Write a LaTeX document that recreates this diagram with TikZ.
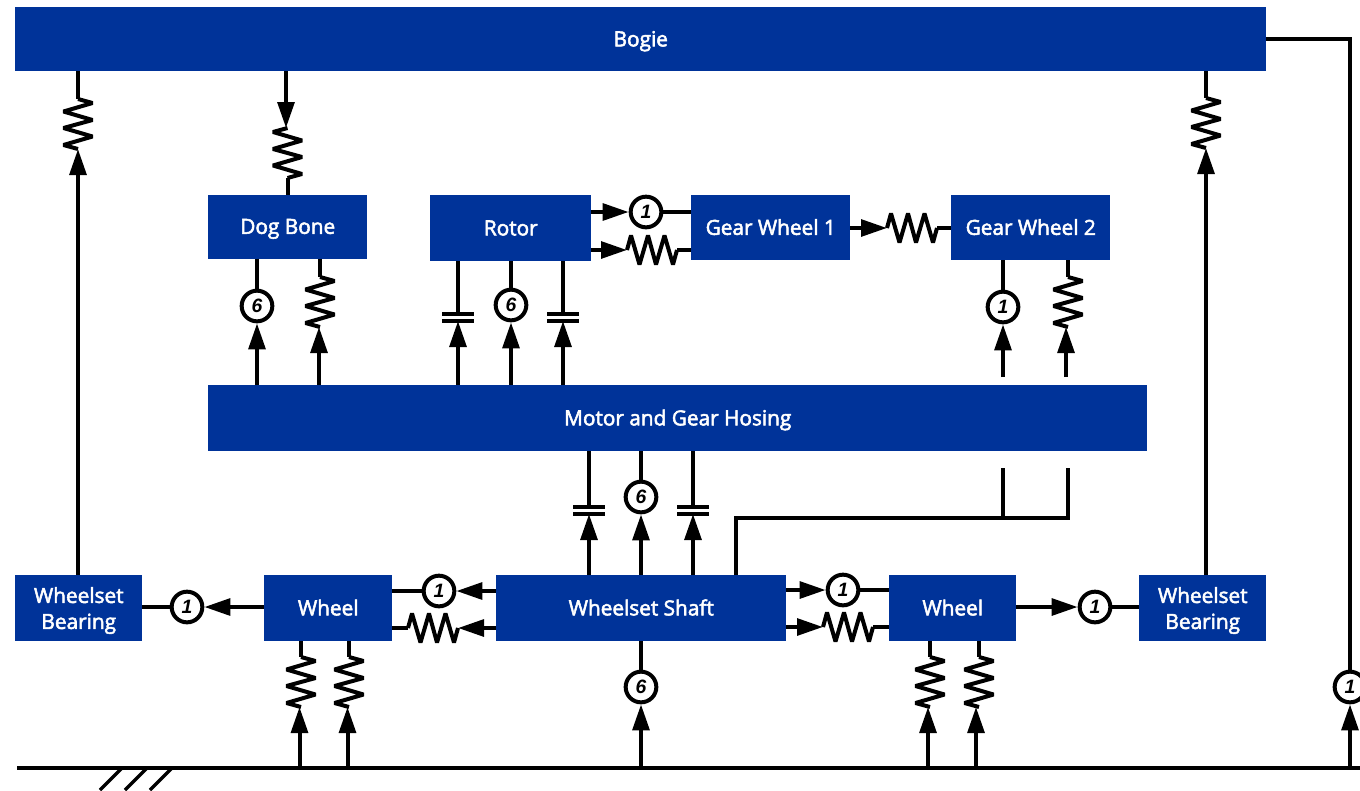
\documentclass[tikz,border=0pt]{standalone}
\usepackage{fontspec}
\setmainfont{Open Sans}
\newfontfamily\lblfont[FakeBold=2.5]{Open Sans}
\newfontfamily\numfont{Liberation Sans}
\usetikzlibrary{arrows.meta}
\definecolor{boxblue}{HTML}{003399}
\newcommand{\st}{\rule[-4.7pt]{0pt}{20pt}}
\newcommand{\sta}{\rule{0pt}{17pt}}
\newcommand{\stb}{\rule[-5.5pt]{0pt}{0pt}}
\tikzset{
  x=0.75pt,y=-0.75pt,
  blk/.style={fill=boxblue,draw=none,text=white,font=\fontsize{15.6}{19.5}\lblfont,align=center,inner sep=0pt,anchor=north west},
  num/.style={circle,draw=black,line width=3pt,fill=white,minimum size=23pt,inner sep=0pt,font=\fontsize{14.5}{14.5}\numfont\bfseries\itshape},
  wire/.style={draw=black,line width=3pt},
  zig/.style={wire,line join=bevel},
  arr/.style={wire,-{Triangle[length=19.5pt,width=12.5pt]}},
  plate/.style={draw=black,line width=2.3pt},
}
\newcommand{\blockbox}[6]{\node[blk,minimum width=#4*0.75pt-#2*0.75pt,minimum height=#5*0.75pt-#3*0.75pt] (#1) at (#2,#3) {#6};}
% vertical spring, top at (x,y), first zig to side #4
\newcommand{\vspr}[4]{\coordinate (#1t) at (#2,#3);\coordinate (#1b) at (#2,#3+50);
 \draw[zig] (#1t) -- ++(#4*14.5,4) -- ++(-#4*29,8.5) -- ++(#4*29,8.5) -- ++(-#4*29,8) -- ++(#4*29,8.5) -- ++(-#4*29,8.5) -- (#1b);}
% horizontal spring, left end at (x,y)
\newcommand{\hspr}[3]{\coordinate (#1l) at (#2,#3);\coordinate (#1r) at (#2+50,#3);
 \draw[zig] (#1l) -- ++(4,-14.5) -- ++(8.5,29) -- ++(8.5,-29) -- ++(8,29) -- ++(8.5,-29) -- ++(8.5,29) -- (#1r);}
\newcommand{\damper}[3]{\coordinate (#1t) at (#2,#3);\coordinate (#1b) at (#2,#3+7);
 \draw[plate] (#2-16,#3) -- (#2+16,#3); \draw[plate] (#2-16,#3+7) -- (#2+16,#3+7);}
\begin{document}
\begin{tikzpicture}
\useasboundingbox (0,0) rectangle (1360,790);
\blockbox{bogie}{15}{7}{1266}{71}{\st Bogie}
\blockbox{dog}{208}{194.5}{367}{258.5}{\st Dog Bone}
\blockbox{rotor}{430}{195}{591}{261}{\st Rotor}
\blockbox{gwa}{691}{195}{850}{260}{\st Gear Wheel 1}
\blockbox{gwb}{951}{195}{1110}{260}{\st Gear Wheel 2}
\blockbox{hos}{208}{385}{1147}{451}{\st Motor and Gear Hosing}
\blockbox{brl}{15}{575}{142}{641}{\sta Wheelset\\\stb Bearing}
\blockbox{wl}{264}{575}{392}{641}{\st Wheel}
\blockbox{shaft}{496}{575}{786}{641}{\st Wheelset Shaft}
\blockbox{wr}{889}{575}{1016}{641}{\st Wheel}
\blockbox{brr}{1139}{575}{1266}{641}{\sta Wheelset\\\stb Bearing}
% ground
\coordinate (g0) at (17,768); \coordinate (g1) at (1360,768);
\draw[wire] (g0) -- (g1);
\foreach \q in {122,147,172}{\draw[wire,line width=2.6pt] (\q,768) -- (\q-22,790);}
% circles
\node[num] (c1) at (646,212) {1};
\node[num] (c2) at (257,306) {6};
\node[num] (c3) at (511,305) {6};
\node[num] (c4) at (1003,307) {1};
\node[num] (c5) at (641,497) {6};
\node[num] (c6) at (187,607) {1};
\node[num] (c7) at (439,591) {1};
\node[num] (c8) at (843,590) {1};
\node[num] (c9) at (1095,607) {1};
\node[num] (c10) at (641,687) {6};
\node[num] (c11) at (1350,687) {1};
% springs
\vspr{sa}{78}{99}{1}
\vspr{sb}{287.5}{128}{-1}
\vspr{sc}{320}{277}{1}
\vspr{sd}{1206}{98}{1}
\vspr{se}{1068}{277}{1}
\vspr{sf}{301}{657}{1}
\vspr{sg}{349}{657}{1}
\vspr{sh}{930}{657}{1}
\vspr{si}{979}{657}{1}
\hspr{ha}{627}{250}
\hspr{hb}{887}{228}
\hspr{hc}{823}{627}
\hspr{hd}{408}{628}
% dampers
\damper{da}{458}{314}
\damper{db}{563}{314}
\damper{dc}{589}{507}
\damper{dd}{693}{507}
% Bogie links
\draw[wire] (78,71) -- (sat);
\draw[arr] (78,575) -- (78,149);
\draw[wire] (1206,71) -- (sdt);
\draw[arr] (1206,575) -- (1206,148);
\draw[arr] (286,71) -- (286,128);
\draw[wire] (288,178) -- (288,194.5);
% Dog bone
\draw[wire] (257,258.5) -- (c2);
\draw[arr] (257,385) -- (c2);
\draw[wire] (320,258.5) -- (sct);
\draw[arr] (319,385) -- (319,327);
% Rotor
\draw[wire] (458,261) -- (dat);
\draw[arr] (458,385) -- (dab);
\draw[wire] (511,261) -- (c3);
\draw[arr] (511,385) -- (c3);
\draw[wire] (563,261) -- (dbt);
\draw[arr] (563,385) -- (dbb);
\draw[arr] (591,212) -- (c1);
\draw[wire] (c1) -- (691,212);
\draw[arr] (591,250) -- (hal);
\draw[wire] (har) -- (691,250);
\draw[arr] (850,228) -- (hbl);
\draw[wire] (hbr) -- (951,228);
% Gear wheel 2
\draw[wire] (1003,260) -- (c4);
\draw[arr] (1003,377) -- (c4);
\draw[wire] (1068,260) -- (set);
\draw[arr] (1066,377) -- (1066,327);
% Hosing - shaft
\draw[wire] (589,451) -- (dct);
\draw[arr] (589,575) -- (dcb);
\draw[wire] (641,451) -- (c5);
\draw[arr] (641,575) -- (c5);
\draw[wire] (693,451) -- (ddt);
\draw[arr] (693,575) -- (ddb);
\draw[wire] (736,575) -- (736,517.5) -- (1068,517.5) -- (1068,468);
\draw[wire] (1003,517.5) -- (1003,468);
% Shaft - wheels
\draw[arr] (496,591) -- (c7);
\draw[wire] (c7) -- (392,591);
\draw[arr] (496,628) -- (458,628);
\draw[wire] (hdl) -- (392,628);
\draw[arr] (786,590) -- (c8);
\draw[wire] (c8) -- (889,590);
\draw[arr] (786,627) -- (hcl);
\draw[wire] (hcr) -- (889,627);
% Bearings
\draw[arr] (264,607) -- (c6);
\draw[wire] (c6) -- (142,607);
\draw[arr] (1016,607) -- (c9);
\draw[wire] (c9) -- (1139,607);
% Ground
\draw[wire] (301,641) -- (sft);
\draw[arr] (299.5,768) -- (299.5,707);
\draw[wire] (349,641) -- (sgt);
\draw[arr] (347.5,768) -- (347.5,707);
\draw[wire] (930,641) -- (sht);
\draw[arr] (928,768) -- (928,707);
\draw[wire] (979,641) -- (sit);
\draw[arr] (976,768) -- (976,707);
\draw[arr] (641,768) -- (c10);
\draw[wire] (c10) -- (641,641);
\draw[arr] (1350,768) -- (c11);
\draw[wire] (1266,39) -- (1350,39) -- (c11);
\end{tikzpicture}
\end{document}
